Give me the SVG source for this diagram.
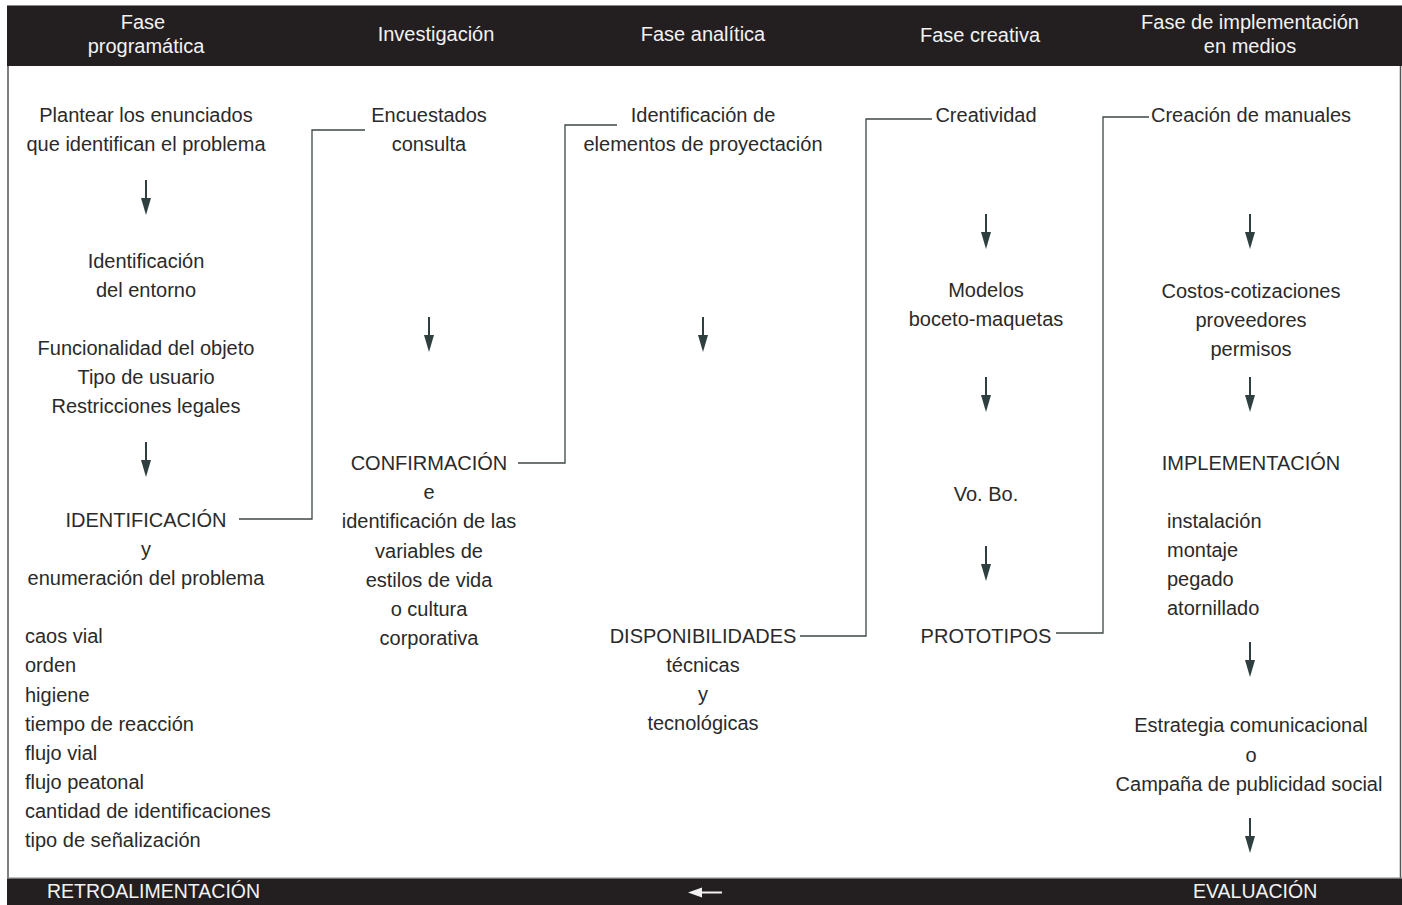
<svg xmlns="http://www.w3.org/2000/svg" width="1402" height="905" viewBox="0 0 1402 905">
<defs>
<style>
text{font-family:"Liberation Sans",Arial,sans-serif;font-size:20px;fill:#2a2a2a}
.h{fill:#f2f2f2;text-anchor:middle}
.b{fill:#f2f2f2;font-size:19.5px}
.c{text-anchor:middle}
.conn{fill:none;stroke:#3c4747;stroke-width:1.3}
.ar{stroke:#2f3f40;stroke-width:2}
.ah{fill:#2f3f40}
</style>
<g id="arrow">
<line class="ar" x1="0" y1="0" x2="0" y2="19"/>
<polygon class="ah" points="-5,18 5,18 0,35"/>
</g>
</defs>
<rect x="0" y="0" width="1402" height="905" fill="#fff"/>
<g id="frame">
<line x1="7" y1="5.5" x2="1402" y2="5.5" stroke="#888" stroke-width="1"/>
<rect x="7" y="6" width="1395" height="60" fill="#231f20"/>
<line x1="8" y1="66" x2="8" y2="878" stroke="#555" stroke-width="1.5"/>
<line x1="1400.5" y1="66" x2="1400.5" y2="878" stroke="#555" stroke-width="1.5"/>
<line x1="7" y1="878" x2="1402" y2="878" stroke="#888" stroke-width="1"/>
<rect x="7" y="878.5" width="1395" height="27" fill="#231f20"/>
</g>
<g id="header">
<text class="h" x="143" y="29">Fase</text>
<text class="h" x="146" y="53">programática</text>
<text class="h" x="436" y="41">Investigación</text>
<text class="h" x="703" y="41">Fase analítica</text>
<text class="h" x="980" y="42">Fase creativa</text>
<text class="h" x="1250" y="29">Fase de implementación</text>
<text class="h" x="1250" y="53">en medios</text>
</g>
<g id="footer">
<text class="b" x="47" y="898">RETROALIMENTACIÓN</text>
<line x1="702" y1="892.5" x2="722" y2="892.5" stroke="#f2f2f2" stroke-width="2"/>
<polygon points="688,892.5 702,887.5 702,897.5" fill="#f2f2f2"/>
<text class="b" x="1193" y="898">EVALUACIÓN</text>
</g>
<g id="col1">
<text class="c" x="146" y="122">Plantear los enunciados</text>
<text class="c" x="146" y="151">que identifican el problema</text>
<text class="c" x="146" y="268">Identificación</text>
<text class="c" x="146" y="297">del entorno</text>
<text class="c" x="146" y="355">Funcionalidad del objeto</text>
<text class="c" x="146" y="384">Tipo de usuario</text>
<text class="c" x="146" y="413">Restricciones legales</text>
<text class="c" x="146" y="527">IDENTIFICACIÓN</text>
<text class="c" x="146" y="556">y</text>
<text class="c" x="146" y="585">enumeración del problema</text>
<text x="25" y="643">caos vial</text>
<text x="25" y="672">orden</text>
<text x="25" y="702">higiene</text>
<text x="25" y="731">tiempo de reacción</text>
<text x="25" y="760">flujo vial</text>
<text x="25" y="789">flujo peatonal</text>
<text x="25" y="818">cantidad de identificaciones</text>
<text x="25" y="847">tipo de señalización</text>
</g>
<g id="col2">
<text class="c" x="429" y="122">Encuestados</text>
<text class="c" x="429" y="151">consulta</text>
<text class="c" x="429" y="470">CONFIRMACIÓN</text>
<text class="c" x="429" y="499">e</text>
<text class="c" x="429" y="528">identificación de las</text>
<text class="c" x="429" y="558">variables de</text>
<text class="c" x="429" y="587">estilos de vida</text>
<text class="c" x="429" y="616">o cultura</text>
<text class="c" x="429" y="645">corporativa</text>
</g>
<g id="col3">
<text class="c" x="703" y="122">Identificación de</text>
<text class="c" x="703" y="151">elementos de proyectación</text>
<text class="c" x="703" y="643">DISPONIBILIDADES</text>
<text class="c" x="703" y="672">técnicas</text>
<text class="c" x="703" y="701">y</text>
<text class="c" x="703" y="730">tecnológicas</text>
</g>
<g id="col4">
<text class="c" x="986" y="122">Creatividad</text>
<text class="c" x="986" y="297">Modelos</text>
<text class="c" x="986" y="326">boceto-maquetas</text>
<text class="c" x="986" y="501">Vo. Bo.</text>
<text class="c" x="986" y="643">PROTOTIPOS</text>
</g>
<g id="col5">
<text class="c" x="1251" y="122">Creación de manuales</text>
<text class="c" x="1251" y="298">Costos-cotizaciones</text>
<text class="c" x="1251" y="327">proveedores</text>
<text class="c" x="1251" y="356">permisos</text>
<text class="c" x="1251" y="470">IMPLEMENTACIÓN</text>
<text x="1167" y="528">instalación</text>
<text x="1167" y="557">montaje</text>
<text x="1167" y="586">pegado</text>
<text x="1167" y="615">atornillado</text>
<text class="c" x="1251" y="732">Estrategia comunicacional</text>
<text class="c" x="1251" y="762">o</text>
<text class="c" x="1249" y="791">Campaña de publicidad social</text>
</g>
<g id="connectors">
<polyline class="conn" points="239,519 312,519 312,130 365,130"/>
<polyline class="conn" points="518,463 565,463 565,125 617,125"/>
<polyline class="conn" points="800,636 866,636 866,119 932,119"/>
<polyline class="conn" points="1056,633 1103,633 1103,117 1149,117"/>
<use href="#arrow" x="146" y="180"/>
<use href="#arrow" x="146" y="442"/>
<use href="#arrow" x="429" y="317"/>
<use href="#arrow" x="703" y="317"/>
<use href="#arrow" x="986" y="214"/>
<use href="#arrow" x="986" y="377"/>
<use href="#arrow" x="986" y="546"/>
<use href="#arrow" x="1250" y="214"/>
<use href="#arrow" x="1250" y="377"/>
<use href="#arrow" x="1250" y="642"/>
<use href="#arrow" x="1250" y="818"/>
</g>
</svg>
